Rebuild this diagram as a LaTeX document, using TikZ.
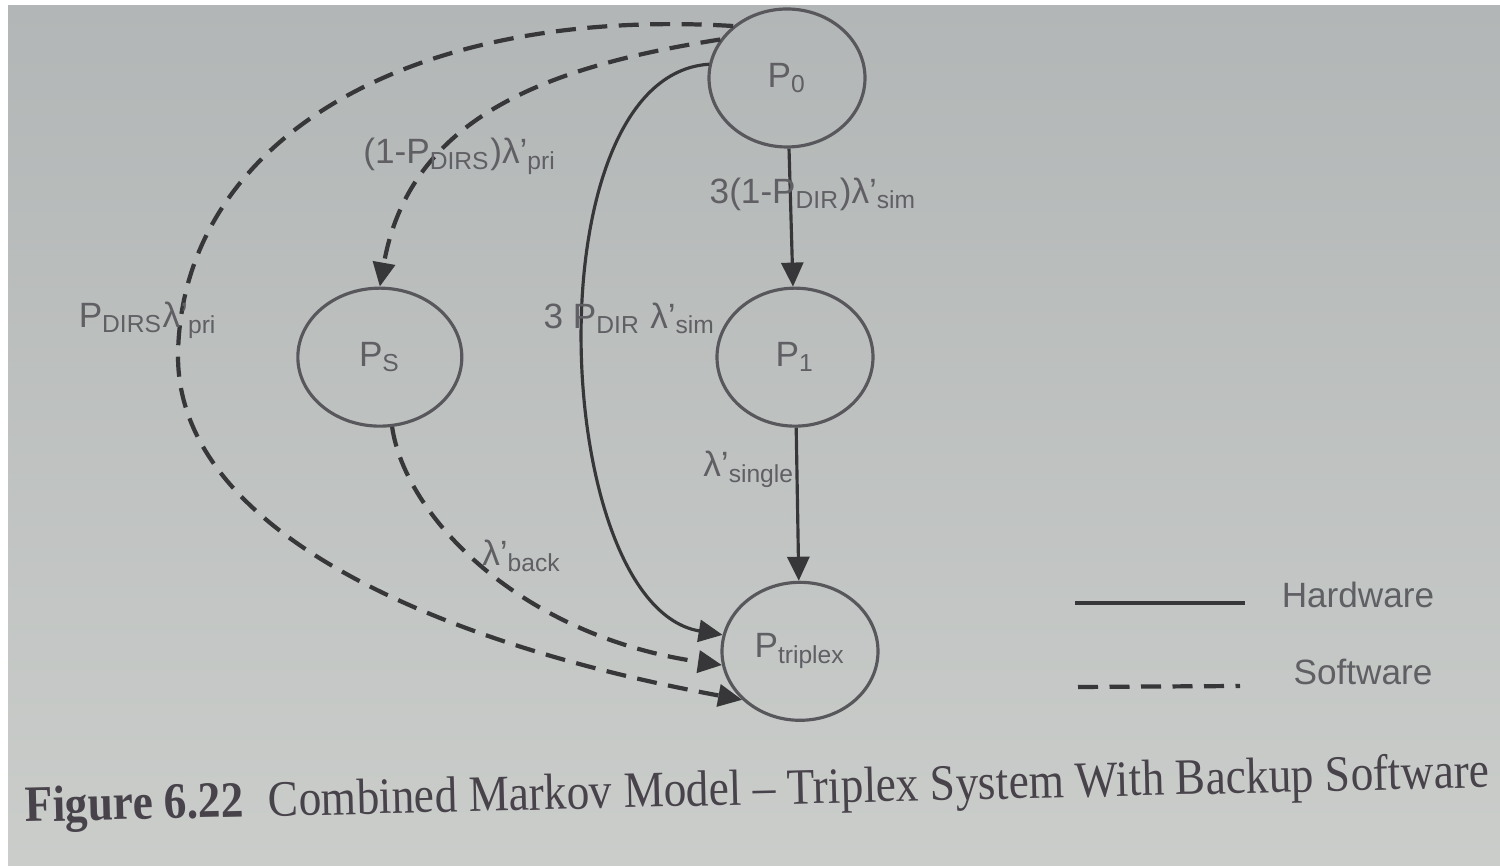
\documentclass[tikz,border=0pt]{standalone}
\usepackage{fontspec}
\setmainfont{Liberation Sans}
\newfontfamily\capfont{Liberation Serif}
\usetikzlibrary{automata, positioning, arrows.meta, shapes.geometric}
\definecolor{papertop}{RGB}{178,182,182}
\definecolor{papermid}{RGB}{209,212,208}
\definecolor{paperbot}{RGB}{202,205,202}
\definecolor{wire}{RGB}{55,55,58}
\definecolor{rim}{RGB}{88,88,92}
\definecolor{ink}{RGB}{95,95,100}
\definecolor{capink}{RGB}{72,66,74}
\tikzset{
    node distance=1.4cm, % gap between the ellipses
    every state/.style={ % Sets the properties for each state
        ellipse,
        draw=rim,
        line width=0.9pt,
        minimum width=1.56cm,
        minimum height=1.38cm,
        inner sep=0pt,
        text=ink,
        font=\fontsize{10}{12}\selectfont
    },
    transition/.style={ % hardware transitions
        draw=wire,
        ->,>={Triangle[length=2.4mm,width=2.2mm]},
        line width=0.9pt
    },
    every edge/.style={transition},
    software/.style={dash pattern=on 2mm off 1.15mm, line width=1.2pt},
    rate/.style={text=ink, inner sep=1pt, font=\fontsize{10}{12}\selectfont}
}

\begin{document}
\begin{tikzpicture}
        % page
        \fill[white] (0,0) rectangle (15,8.66);
        \shade[top color=papertop, middle color=papermid, bottom color=paperbot]
                (0.08,0) rectangle (15,8.6);
        \useasboundingbox (0,0) rectangle (15,8.66);

        % zustaende
        \node[state]                                          (p0)       at (7.87,7.88) {P\textsubscript{0}};
        \node[state, below=1.38cm of p0, xshift=0.08cm]       (p1)       {P\textsubscript{1}};
        \node[state, minimum width=1.64cm, left=2.52cm of p1] (ps)       {P\textsubscript{S}};
        \node[state, below=1.53cm of p1, xshift=0.05cm]       (ptriplex) {P\textsubscript{triplex}};

        % hardware
        \draw
                (p0)    edge    node[rate, pos=.33, xshift=0.23cm]
                                {3(1-P\textsubscript{DIR})λ’\textsubscript{sim}}     (p1)
                (p1)    edge    node[rate, pos=.27, anchor=east, xshift=0.03cm]
                                {λ’\textsubscript{single}}                           (ptriplex)
        ;
        \draw[transition] (p0.170) .. controls (5.3,7.9) and (5.5,2.6) ..
                node[rate, pos=.47, xshift=0.46cm] {3 P\textsubscript{DIR} λ’\textsubscript{sim}}
                (ptriplex.168);

        % software
        \draw[transition, software] (p0.150) .. controls (5.5,8.0) and (4.1,7.5) ..
                node[rate, pos=.68, xshift=0.2cm] {(1-P\textsubscript{DIRS})λ’\textsubscript{pri}}
                (ps.north);
        \draw[transition, software] (ps.-80) .. controls (4.05,3.5) and (5.2,2.3) ..
                node[rate, pos=.455, anchor=west, xshift=0.05cm] {λ’\textsubscript{back}}
                (ptriplex.190);
        \draw[transition, software] (p0.136) .. controls (4.0,8.6) and (1.8,7.2) ..
                node[rate, pos=1, xshift=-0.3cm, yshift=0.36cm] {P\textsubscript{DIRS}λ’\textsubscript{pri}}
                (1.78,5.1) .. controls (1.78,3.3) and (4.5,2.2) .. (ptriplex.220);

        % legende
        \coordinate (hwa) at (10.75,2.63);
        \coordinate (hwb) at (12.45,2.63);
        \coordinate (swa) at (10.78,1.79);
        \coordinate (swb) at (12.40,1.80);
        \draw[wire, line width=1.1pt] (hwa) -- (hwb);
        \draw[wire, software] (swa) -- (swb);
        \node[rate] (hwtext) at (13.58,2.71) {Hardware};
        \node[rate] (swtext) at (13.63,1.94) {Software};

        % bildunterschrift
        \node[anchor=base west, inner sep=0pt, rotate=1.35, xscale=0.89, text=capink,
              font=\capfont\fontsize{14.5}{17}\selectfont] (caption) at (0.25,0.44)
                {\textbf{Figure 6.22}\hspace{0.55em}Combined Markov Model – Triplex System With Backup Software};
\end{tikzpicture}
\end{document}
